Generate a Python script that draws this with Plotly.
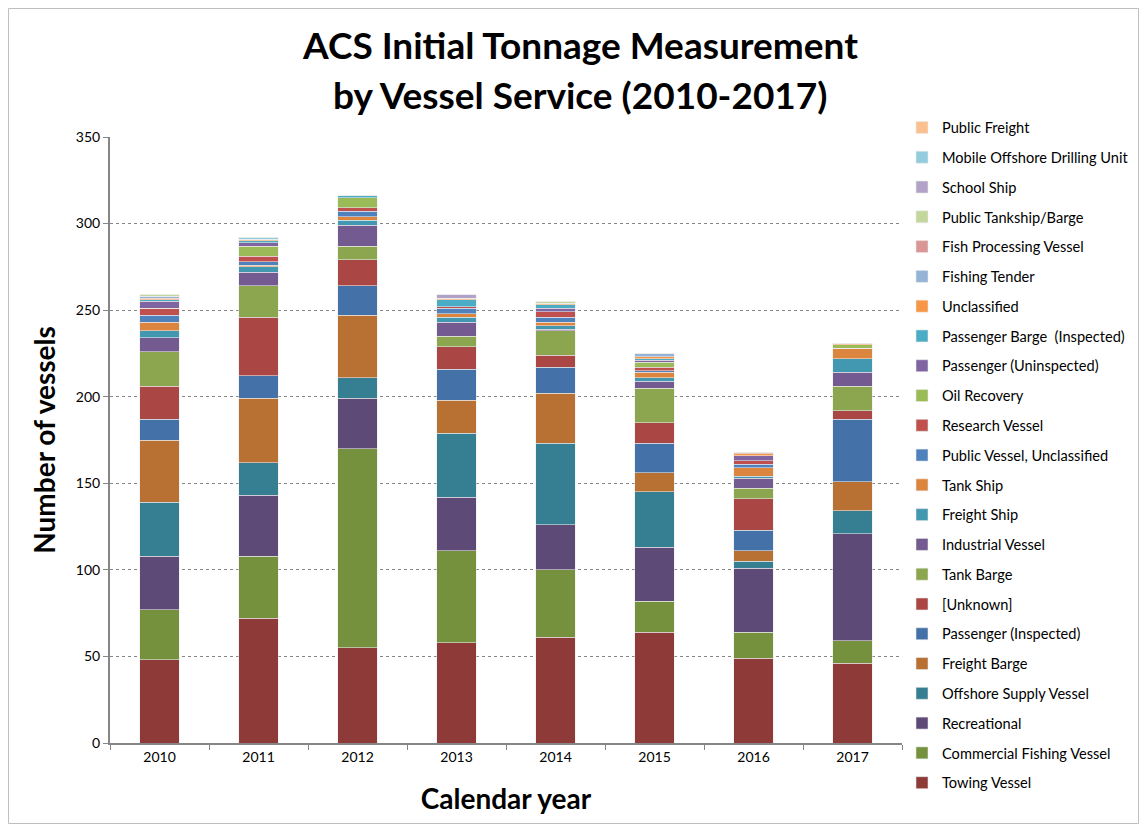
import plotly.graph_objects as go

years = ["2010", "2011", "2012", "2013", "2014", "2015", "2016", "2017"]

towing_vessel = [48, 72, 55, 58, 61, 64, 49, 46]
commercial_fishing_vessel = [29, 36, 115, 53, 39, 18, 15, 13]
recreational = [31, 35, 29, 31, 26, 31, 37, 62]
offshore_supply_vessel = [31, 19, 12, 37, 47, 32, 4, 13]
freight_barge = [36, 37, 36, 19, 29, 11, 6, 17]
passenger_inspected = [12, 13, 17, 18, 15, 17, 12, 36]
unknown = [19, 34, 15, 13, 7, 12, 18, 5]
tank_barge = [20, 18, 8, 6, 14, 20, 6, 14]
industrial_vessel = [8, 8, 12, 8, 1, 4, 6, 8]
freight_ship = [4, 3, 3, 3, 2, 2, 1, 8]
tank_ship = [5, 1, 2, 2, 2, 3, 5, 6]
public_vessel_unclassified = [4, 2, 3, 3, 3, 1, 2, 0]
research_vessel = [4, 3, 2, 1, 3, 2, 2, 0]
oil_recovery = [0, 6, 6, 0, 0, 3, 0, 2]
passenger_uninspected = [4, 2, 0, 0, 2, 1, 3, 0]
passenger_barge_inspected = [1, 1, 1, 4, 2, 1, 0, 0]
unclassified = [1, 1, 0, 1, 1, 1, 1, 1]
fishing_tender = [1, 0, 0, 0, 0, 2, 0, 0]
fish_processing_vessel = [0, 0, 0, 0, 0, 0, 1, 0]
public_tankship_barge = [1, 0, 0, 0, 1, 0, 0, 0]
school_ship = [0, 0, 0, 2, 0, 0, 0, 0]
mobile_offshore_drilling_unit = [0, 1, 0, 0, 0, 0, 0, 0]
public_freight = [0, 0, 0, 0, 0, 0, 0, 0]

series = [
    ("Towing Vessel", towing_vessel, "#8E3A38"),
    ("Commercial Fishing Vessel", commercial_fishing_vessel, "#76913E"),
    ("Recreational", recreational, "#5E4A76"),
    ("Offshore Supply Vessel", offshore_supply_vessel, "#367F93"),
    ("Freight Barge", freight_barge, "#B87033"),
    ("Passenger (Inspected)", passenger_inspected, "#4472A8"),
    ("[Unknown]", unknown, "#AA4745"),
    ("Tank Barge", tank_barge, "#8BA64F"),
    ("Industrial Vessel", industrial_vessel, "#735A90"),
    ("Freight Ship", freight_ship, "#4298B0"),
    ("Tank Ship", tank_ship, "#DB853E"),
    ("Public Vessel, Unclassified", public_vessel_unclassified, "#4F81BD"),
    ("Research Vessel", research_vessel, "#C0504D"),
    ("Oil Recovery", oil_recovery, "#9BBB59"),
    ("Passenger (Uninspected)", passenger_uninspected, "#8064A2"),
    ("Passenger Barge  (Inspected)", passenger_barge_inspected, "#4BACC6"),
    ("Unclassified", unclassified, "#F79646"),
    ("Fishing Tender", fishing_tender, "#95B3D7"),
    ("Fish Processing Vessel", fish_processing_vessel, "#D99694"),
    ("Public Tankship/Barge", public_tankship_barge, "#C3D69B"),
    ("School Ship", school_ship, "#B3A2C7"),
    ("Mobile Offshore Drilling Unit", mobile_offshore_drilling_unit, "#93CDDD"),
    ("Public Freight", public_freight, "#FAC090"),
]

FONT = "Lato, Carlito, 'Liberation Sans', sans-serif"

fig = go.Figure()
for i, (name, vals, col) in enumerate(series):
    fig.add_trace(go.Bar(
        x=years, y=vals, name=name, legendgroup=name, legendrank=1000 - i,
        marker=dict(color=col, line=dict(color="rgba(235,235,235,0.8)", width=0.7)),
    ))

# page body has an 8px margin: figure occupies window pixels 8..1139 x 8..824
OFF = 8
W, H = 1147 - 2 * OFF, 832 - 2 * OFF
PL, PR, PT, PB = 110, 902, 137, 743  # plot area in window pixels
L, R, T, B = PL - OFF, (W + OFF) - PR, PT - OFF, (H + OFF) - PB
pw, ph = PR - PL, PB - PT

def px_x(p):
    return (p - PL) / pw

def px_y(p):
    return (PB - p) / ph

fig.update_layout(
    width=W, height=H,
    barmode="stack", bargap=0.6,
    margin=dict(l=L, r=R, t=T, b=B, pad=0, autoexpand=False),
    paper_bgcolor="white", plot_bgcolor="white",
    font=dict(family=FONT, size=14, color="#000000"),
    legend=dict(
        traceorder="grouped", tracegroupgap=7.8,
        x=1.0, xanchor="left", y=px_y(111.5), yanchor="top",
        bgcolor="rgba(0,0,0,0)",
        font=dict(family=FONT, size=14.6, color="#000000"),
        itemclick=False, itemdoubleclick=False, maxheight=2000,
    ),
    xaxis=dict(
        type="category", showline=True, linecolor="#868686", linewidth=2,
        ticks="outside", tickson="boundaries", ticklen=5, tickcolor="#868686",
        tickfont=dict(size=14),
        title=dict(text="<b>Calendar year</b>", font=dict(size=28), standoff=26),
        showgrid=False,
    ),
    yaxis=dict(
        range=[0, 350], dtick=50, showline=True, linecolor="#868686", linewidth=2,
        ticks="outside", ticklen=5, tickcolor="#868686",
        tickfont=dict(size=14),
        showgrid=True, gridcolor="#868686", gridwidth=1, griddash="dot",
        zeroline=False,
        title=dict(text="<b>Number of vessels</b>", font=dict(size=28), standoff=12),
    ),
    annotations=[
        dict(text="<b>ACS Initial Tonnage Measurement</b>", xref="paper", yref="paper",
             x=px_x(580), y=px_y(44), xanchor="center", yanchor="middle", showarrow=False,
             font=dict(family=FONT, size=37, color="#000000")),
        dict(text="<b>by Vessel Service (2010-2017)</b>", xref="paper", yref="paper",
             x=px_x(580), y=px_y(94), xanchor="center", yanchor="middle", showarrow=False,
             font=dict(family=FONT, size=37, color="#000000")),
    ],
    shapes=[dict(
        type="rect", xref="paper", yref="paper",
        x0=px_x(8.5), x1=px_x(1138.5), y0=px_y(823.5), y1=px_y(8.5),
        line=dict(color="#BFBFBF", width=1), fillcolor="rgba(0,0,0,0)", layer="above",
    )],
)

fig.write_html("out.html")
